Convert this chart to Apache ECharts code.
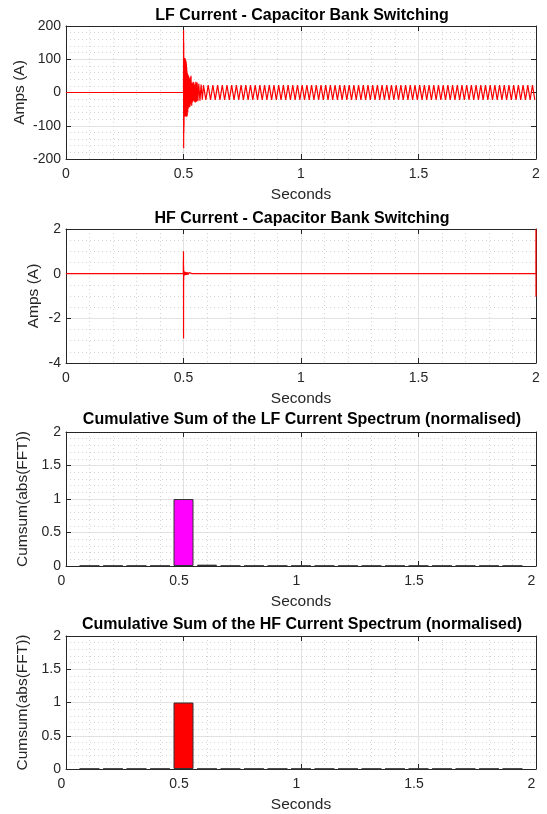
<!DOCTYPE html>
<html>
<head>
<meta charset="utf-8">
<script src="https://cdn.jsdelivr.net/npm/echarts@6/dist/echarts.min.js"></script>
<style>
  html, body { margin: 0; padding: 0; background: #ffffff; }
  #chart { width: 547px; height: 814px; }
</style>
</head>
<body>
<div id="chart"></div>
<script>
// ---- LF current: flat before switching, ringing burst at 0.5 s, then 50 Hz steady state ----
const lfPreTime = [0, 0.5];
const lfPreAmps = [0, 0];

const lfBurstTime = [
  0.5003, 0.5007, 0.5011, 0.5015, 0.5019, 0.5023, 0.5027, 0.5031, 0.5035, 0.5040,
  0.5045, 0.5050, 0.5055, 0.5060, 0.5065, 0.5070, 0.5075, 0.5080, 0.5085, 0.5090,
  0.5095, 0.5100, 0.5105, 0.5110, 0.5115, 0.5120, 0.5125, 0.5130, 0.5135, 0.5140,
  0.5145, 0.5150, 0.5155, 0.5160, 0.5165, 0.5170, 0.5175, 0.5180, 0.5185, 0.5190,
  0.5195, 0.5200, 0.5206, 0.5212, 0.5218, 0.5224, 0.5230, 0.5236, 0.5242, 0.5248,
  0.5254, 0.5260, 0.5268, 0.5276, 0.5284, 0.5292, 0.5300, 0.5310, 0.5320, 0.5330,
  0.5340, 0.5350, 0.5360, 0.5372, 0.5384, 0.5396, 0.5410, 0.5425, 0.5440, 0.5460,
  0.5480, 0.5500, 0.5525, 0.5550, 0.5580, 0.5610, 0.5650, 0.5700, 0.5750, 0.5800
];
const lfBurstAmps = [
   188, -168,  150, -122,  104, -100,  103,  -70,  102,  -68,
   104,  -72,  100,  -66,  103,  -70,   98,  -64,  100,  -72,
    96,  -68,   94,  -70,   90,  -73,   84,  -66,   76,  -72,
    66,  -62,   60,  -70,   58,  -56,   55,  -60,   54,  -50,
    52,  -48,   50,  -45,   48,  -42,   46,  -40,   44,  -44,
    40,  -38,   36,  -42,   32,  -36,   45,  -30,   50,  -28,
    30,  -40,   26,  -30,   28,  -26,   32,  -24,   30,  -28,
    24,  -30,   32,  -28,   30,  -26,   26,  -25,   24,  -22
];

// steady 50 Hz extremes, one value every half cycle from 0.585 s
const lfSteadyStart = 0.585;
const lfHalfCycle = 0.01;
const lfSteadyPeaks = [
   22, -22,  22, -22,  22, -22,  22, -22,  22, -22,
   22, -22,  22, -22,  22, -22,  22, -22,  22, -22,
   22, -22,  22, -22,  22, -22,  22, -22,  22, -22,
   22, -22,  22, -22,  22, -22,  22, -22,  22, -22,
   22, -22,  22, -22,  22, -22,  22, -22,  22, -22,
   22, -22,  22, -22,  22, -22,  22, -22,  22, -22,
   22, -22,  22, -22,  22, -22,  22, -22,  22, -22,
   22, -22,  22, -22,  22, -22,  22, -22,  22, -22,
   22, -22,  22, -22,  22, -22,  22, -22,  22, -22,
   22, -22,  22, -22,  22, -22,  22, -22,  22, -22,
   22, -22,  22, -22,  22, -22,  22, -22,  22, -22,
   22, -22,  22, -22,  22, -22,  22, -22,  22, -22,
   22, -22,  22, -22,  22, -22,  22, -22,  22, -22,
   22, -22,  22, -22,  22, -22,  22, -22,  22, -22,
   22, -22
];

// ---- HF current: near zero with a spike at switching and one at the record end ----
const hfTime = [
  0, 0.4990, 0.4996, 0.5000, 0.5002, 0.5005, 0.5008, 0.5012, 0.5016, 0.5020,
  0.5030, 0.5040, 0.5055, 0.5070, 0.5090, 0.5110, 0.5140, 0.5170, 0.5200, 0.5240,
  0.5280, 0.5320, 0.5360, 0.7495, 0.7500, 0.7505, 0.7510, 1.1995, 1.2000, 1.2005,
  1.2010, 1.3495, 1.3500, 1.3505, 1.3510, 1.8995, 1.9000, 1.9005, 1.9010, 1.9996,
  1.9998, 2.0000
];
const hfAmps = [
  0, 0, -0.08, 1.0, -2.9, 0.35, -0.3, 0.15, -0.12, 0.1,
  -0.08, 0.09, -0.07, 0.08, -0.06, 0.07, -0.05, 0.06, -0.04, 0.05,
  -0.03, 0.02, 0, 0, 0.04, -0.03, 0, 0, 0.08, -0.07,
  0, 0, 0.05, -0.05, 0, 0, 0.04, -0.04, 0, 0,
  2.0, -1.03
];

// ---- normalised cumulative spectrum sums per 0.1 s bin ----
const binCentres = [0.1, 0.2, 0.3, 0.4, 0.5, 0.6, 0.7, 0.8, 0.9, 1.0,
                    1.1, 1.2, 1.3, 1.4, 1.5, 1.6, 1.7, 1.8, 1.9];
const lfCumsum = [0.004, 0.004, 0.004, 0.004, 1.0, 0.02, 0.004, 0.004, 0.004, 0.004,
                  0.004, 0.004, 0.004, 0.004, 0.004, 0.004, 0.004, 0.004, 0.004];
const hfCumsum = [0.004, 0.004, 0.004, 0.004, 1.0, 0.004, 0.004, 0.004, 0.004, 0.004,
                  0.004, 0.004, 0.004, 0.004, 0.004, 0.004, 0.004, 0.004, 0.004];

// ---- tick settings ----
const timeTicks = { min: 0, max: 2, interval: 0.5 };
const lfTicks = { min: -200, max: 200, interval: 100, minor: 5 };
const hfTicks = { min: -4, max: 2, interval: 2, minor: 4 };
const sumTicks = { min: 0, max: 2, interval: 0.5, minor: 5 };

// ---- build series data ----
const lfData = [];
lfPreTime.forEach((t, i) => lfData.push([t, lfPreAmps[i]]));
lfBurstTime.forEach((t, i) => lfData.push([t, lfBurstAmps[i]]));
lfSteadyPeaks.forEach((v, i) => lfData.push([+(lfSteadyStart + i * lfHalfCycle).toFixed(4), v]));
const hfData = hfTime.map((t, i) => [t, hfAmps[i]]);
const lfBars = binCentres.map((t, i) => [t, lfCumsum[i]]);
const hfBars = binCentres.map((t, i) => [t, hfCumsum[i]]);

const FONT = "'Liberation Sans', Arial, Helvetica, sans-serif";
const INK = '#262626';
const MAJOR = '#e2e2e2';
const MINOR = '#d4d4d4';

const panels = [
  { top: 26,  height: 133, titleTop: 3,   title: 'LF Current - Capacitor Bank Switching', yName: 'Amps (A)', yGap: 38, ticks: lfTicks, xPad: 0 },
  { top: 229, height: 134, titleTop: 206, title: 'HF Current - Capacitor Bank Switching', yName: 'Amps (A)', yGap: 24, ticks: hfTicks, xPad: 0 },
  { top: 432, height: 134, titleTop: 407, title: 'Cumulative Sum of the LF Current Spectrum (normalised)', yName: 'Cumsum(abs(FFT))', yGap: 35, ticks: sumTicks, xPad: 9 },
  { top: 636, height: 133, titleTop: 612, title: 'Cumulative Sum of the HF Current Spectrum (normalised)', yName: 'Cumsum(abs(FFT))', yGap: 35, ticks: sumTicks, xPad: 9 }
];

const grids = [], xAxes = [], yAxes = [], titles = [];
const tickStyle = { show: true, inside: true, length: 5, lineStyle: { color: INK, width: 1 } };
const lineStyle = { show: true, onZero: false, lineStyle: { color: INK, width: 1 } };

panels.forEach((p, g) => {
  grids.push({ left: 66, right: 11, top: p.top, height: p.height, containLabel: false });
  titles.push({
    text: p.title, left: 297, top: p.titleTop, textAlign: 'center',
    textStyle: { fontFamily: FONT, fontSize: 16, fontWeight: 'bold', color: '#000' }
  });
  xAxes.push({
    gridIndex: g, type: 'value', position: 'bottom', ...timeTicks,
    axisLine: lineStyle, axisTick: tickStyle,
    axisLabel: { color: INK, fontFamily: FONT, fontSize: 14, margin: 8, padding: [0, p.xPad, 0, 0] },
    name: 'Seconds', nameLocation: 'middle', nameGap: 28, nameMoveOverlap: false,
    nameTextStyle: { color: INK, fontFamily: FONT, fontSize: 15.5 },
    splitLine: { show: true, lineStyle: { color: MAJOR, width: 1 } },
    minorTick: { show: false, splitNumber: 5 },
    minorSplitLine: { show: true, lineStyle: { color: MINOR, width: 1, type: [1, 3] } }
  });
  xAxes.push({
    gridIndex: g, type: 'value', position: 'top', ...timeTicks,
    axisLine: lineStyle, axisTick: tickStyle, axisLabel: { show: false }, splitLine: { show: false }
  });
  yAxes.push({
    gridIndex: g, type: 'value', position: 'left',
    min: p.ticks.min, max: p.ticks.max, interval: p.ticks.interval,
    axisLine: lineStyle, axisTick: tickStyle,
    axisLabel: { color: INK, fontFamily: FONT, fontSize: 14, margin: 5 },
    name: p.yName, nameLocation: 'middle', nameGap: p.yGap, nameMoveOverlap: false,
    nameTextStyle: { color: INK, fontFamily: FONT, fontSize: 15.5 },
    splitLine: { show: true, lineStyle: { color: MAJOR, width: 1 } },
    minorTick: { show: false, splitNumber: p.ticks.minor },
    minorSplitLine: { show: true, lineStyle: { color: MINOR, width: 1, type: [1, 3] } }
  });
  yAxes.push({
    gridIndex: g, type: 'value', position: 'right',
    min: p.ticks.min, max: p.ticks.max, interval: p.ticks.interval,
    axisLine: lineStyle, axisTick: tickStyle, axisLabel: { show: false }, splitLine: { show: false }
  });
});

const chart = echarts.init(document.getElementById('chart'), null, { renderer: 'canvas' });
chart.setOption({
  animation: false,
  backgroundColor: '#ffffff',
  title: titles,
  grid: grids,
  xAxis: xAxes,
  yAxis: yAxes,
  series: [
    { type: 'line', xAxisIndex: 0, yAxisIndex: 0, data: lfData, showSymbol: false, clip: true,
      lineStyle: { color: '#ff0000', width: 1.2 }, z: 3 },
    { type: 'line', xAxisIndex: 2, yAxisIndex: 2, data: hfData, showSymbol: false, clip: true,
      lineStyle: { color: '#ff0000', width: 1.2 }, z: 3 },
    { type: 'bar', xAxisIndex: 4, yAxisIndex: 4, data: lfBars, barWidth: 20, clip: true,
      itemStyle: { color: '#ff00ff', borderColor: '#333333', borderWidth: 1 }, z: 3 },
    { type: 'bar', xAxisIndex: 6, yAxisIndex: 6, data: hfBars, barWidth: 20, clip: true,
      itemStyle: { color: '#ff0000', borderColor: '#333333', borderWidth: 1 }, z: 3 }
  ]
});
</script>
</body>
</html>
